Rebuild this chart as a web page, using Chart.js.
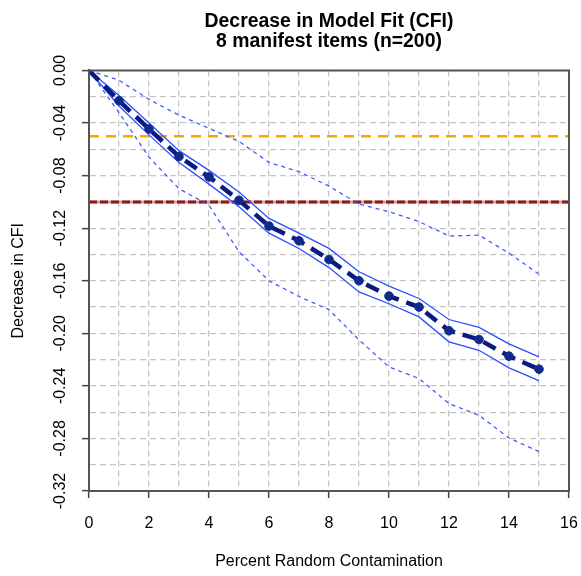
<!DOCTYPE html>
<html>
<head>
<meta charset="utf-8">
<title>Decrease in Model Fit (CFI)</title>
<script src="https://cdn.jsdelivr.net/npm/chart.js@4.4.0/dist/chart.umd.min.js"></script>
<style>
  html, body { margin: 0; padding: 0; background: #fff; }
  canvas { display: block; }
</style>
</head>
<body>
<canvas id="cfi-chart" width="581" height="576"></canvas>
<script>
// percent random contamination (x)
const pctContam = [0, 1, 2, 3, 4, 5, 6, 7, 8, 9, 10, 11, 12, 13, 14, 15];

// mean drop in CFI
const meanDrop  = [0, -0.023, -0.0445, -0.0655, -0.081, -0.0988, -0.1184, -0.1296, -0.1438, -0.160, -0.1717, -0.180, -0.198, -0.2047, -0.2174, -0.2273];
// inner band (solid lines)
const bandUpper = [0, -0.019, -0.040, -0.061, -0.076, -0.0925, -0.1126, -0.1238, -0.1354, -0.1532, -0.1641, -0.1735, -0.1895, -0.1955, -0.208, -0.218];
const bandLower = [0, -0.027, -0.049, -0.070, -0.0865, -0.1037, -0.1238, -0.1355, -0.150, -0.1685, -0.1775, -0.1875, -0.2065, -0.2129, -0.2263, -0.236];
// outer band (dashed lines)
const outerUpper = [0, -0.0075, -0.022, -0.034, -0.044, -0.054, -0.070, -0.077, -0.088, -0.1017, -0.1075, -0.115, -0.126, -0.1253, -0.139, -0.155];
const outerLower = [0, -0.032, -0.066, -0.090, -0.1025, -0.138, -0.160, -0.172, -0.182, -0.205, -0.2256, -0.2344, -0.2535, -0.2624, -0.2797, -0.290];

// cutoff lines
const cutoffSmall = -0.05;
const cutoffLarge = -0.10;

// axes
const xMin = 0, xMax = 16;
const yMin = -0.32, yMax = 0;
const xTickLabels = [0, 2, 4, 6, 8, 10, 12, 14, 16];
const yTickLabels = ['0.00', '-0.04', '-0.08', '-0.12', '-0.16', '-0.20', '-0.24', '-0.28', '-0.32'];

const FONT = "'Liberation Sans', Arial, Helvetica, sans-serif";
Chart.defaults.font.family = FONT;
Chart.defaults.color = '#000';

const toPoints = ys => pctContam.map((x, i) => ({ x: x, y: ys[i] }));
const hLine = y => [{ x: xMin, y: y }, { x: xMax, y: y }];

function yLabel(v) {
    const s = (Math.abs(v) < 1e-9 ? 0 : v).toFixed(2);
    return yTickLabels.includes(s) ? s : '';
}

// box round the plot area (R style frame)
const framePlugin = {
    id: 'frame',
    afterDraw(chart) {
        const { ctx, chartArea: a } = chart;
        ctx.save();
        ctx.strokeStyle = '#555';
        ctx.lineWidth = 2;
        ctx.strokeRect(a.left, a.top, a.right - a.left, a.bottom - a.top);
        ctx.restore();
    }
};

const thinLine = (data, color, dash, order) => ({
    data: data,
    borderColor: color,
    borderWidth: 1.3,
    borderDash: dash,
    pointRadius: 0,
    fill: false,
    tension: 0,
    order: order
});

const tickMarkColor = c => (c.tick && c.tick.label) ? '#444' : 'rgba(0,0,0,0)';

new Chart(document.getElementById('cfi-chart'), {
    type: 'line',
    data: {
        datasets: [
            {
                label: 'mean',
                data: toPoints(meanDrop),
                borderColor: '#0a1a80',
                borderWidth: 4.5,
                borderDash: [14, 8],
                pointRadius: c => c.dataIndex === 0 ? 2 : 4.3,
                pointBackgroundColor: '#102a8c',
                pointBorderColor: '#102a8c',
                pointBorderWidth: 1,
                fill: false,
                tension: 0,
                order: 0
            },
            thinLine(toPoints(bandUpper), '#2a4fff', [], 1),
            thinLine(toPoints(bandLower), '#2a4fff', [], 1),
            thinLine(toPoints(outerUpper), '#3d5cff', [4, 4], 2),
            thinLine(toPoints(outerLower), '#3d5cff', [4, 4], 2),
            {
                data: hLine(cutoffSmall),
                borderColor: '#ffa500',
                borderWidth: 2.5,
                borderDash: [10, 7],
                pointRadius: 0,
                order: 3
            },
            {
                data: hLine(cutoffLarge),
                borderColor: '#8b1a1a',
                borderWidth: 3,
                borderDash: [8, 3],
                pointRadius: 0,
                order: 3
            },
            {
                data: hLine(cutoffLarge),
                borderColor: '#d2a0a0',
                borderWidth: 3,
                pointRadius: 0,
                order: 4
            }
        ]
    },
    options: {
        responsive: false,
        animation: false,
        layout: { padding: { left: 0, right: 12, top: 0, bottom: 0 } },
        plugins: {
            legend: { display: false },
            tooltip: { enabled: false },
            title: {
                display: true,
                fullSize: false,
                text: ['Decrease in Model Fit (CFI)', '8 manifest items (n=200)'],
                color: '#000',
                font: { size: 19.4, weight: 'bold', lineHeight: 1.02 },
                padding: { top: 11.5, bottom: 19.4 }
            }
        },
        scales: {
            x: {
                type: 'linear',
                min: xMin,
                max: xMax,
                afterFit: s => { s.height = 85; s.paddingLeft = 0; s.paddingRight = 0; },
                ticks: {
                    stepSize: 1,
                    autoSkip: false,
                    maxRotation: 0,
                    padding: 16,
                    font: { size: 16 },
                    color: '#000',
                    callback: v => xTickLabels.includes(v) ? String(v) : ''
                },
                grid: {
                    color: '#c4c4c4',
                    lineWidth: 1.3,
                    tickLength: 7,
                    tickWidth: 1.5,
                    tickBorderDash: [],
                    tickColor: tickMarkColor
                },
                border: { display: true, color: '#555', width: 2, dash: [6, 4] },
                title: {
                    display: true,
                    text: 'Percent Random Contamination',
                    font: { size: 16 },
                    color: '#000',
                    padding: { top: 0, bottom: 5 }
                }
            },
            y: {
                type: 'linear',
                min: yMin,
                max: yMax,
                afterFit: s => { s.width = 89; },
                ticks: {
                    stepSize: 0.02,
                    autoSkip: false,
                    minRotation: 90,
                    maxRotation: 90,
                    crossAlign: 'center',
                    padding: 3,
                    font: { size: 16 },
                    color: '#000',
                    callback: yLabel
                },
                grid: {
                    color: '#c4c4c4',
                    lineWidth: 1.3,
                    tickLength: 7,
                    tickWidth: 1.5,
                    tickBorderDash: [],
                    tickColor: tickMarkColor
                },
                border: { display: true, color: '#555', width: 2, dash: [6, 4] },
                title: {
                    display: true,
                    text: 'Decrease in CFI',
                    font: { size: 16 },
                    color: '#000',
                    padding: { top: 9, bottom: 0 }
                }
            }
        }
    },
    plugins: [framePlugin]
});
</script>
</body>
</html>
